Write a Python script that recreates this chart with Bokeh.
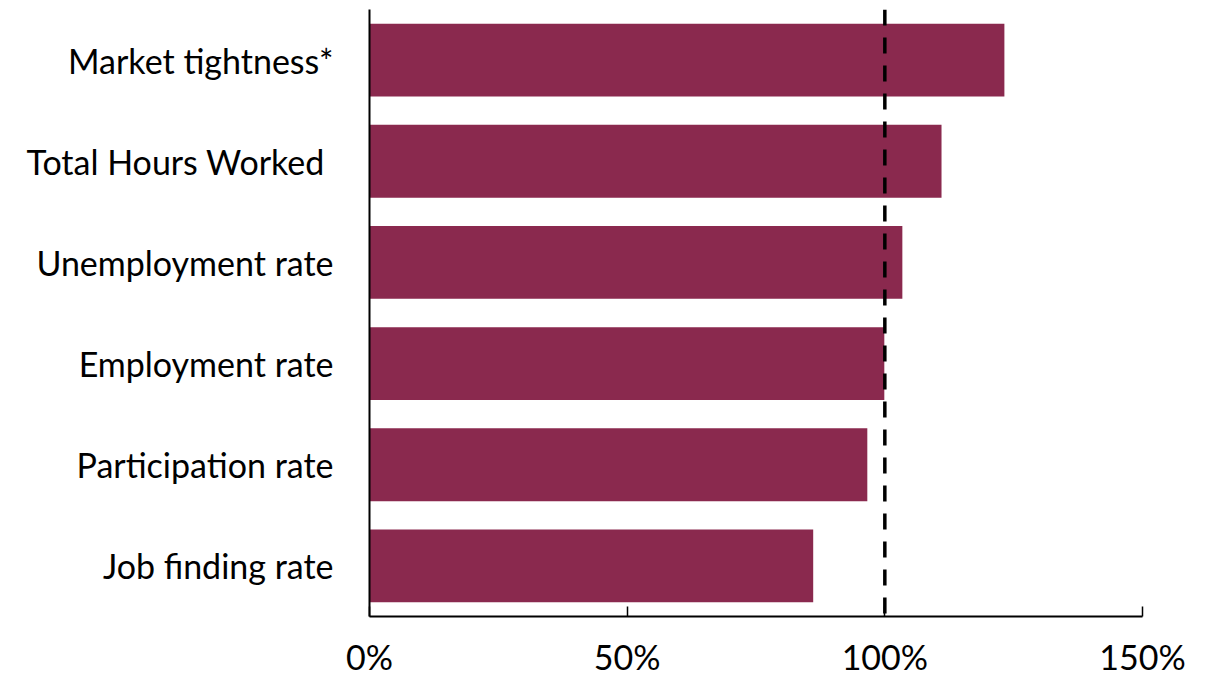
from bokeh.plotting import figure
from bokeh.models import FactorRange, Span, FixedTicker, CustomJSTickFormatter
from bokeh.embed import file_html
from bokeh.resources import INLINE

categories = ["Market tightness*", "Total Hours Worked ", "Unemployment rate",
              "Employment rate", "Participation rate", "Job finding rate"]
values = [123.2, 111.0, 103.4, 99.9, 96.6, 86.1]
x_ticks = [0, 50, 100, 150]
reference_line = 100

FONT = "Lato"
BAR = "#8A294E"

p = figure(y_range=FactorRange(*reversed(categories)), x_range=(0, 150),
           width=1206, height=679, output_backend="svg", toolbar_location=None,
           min_border_left=369, min_border_right=64, min_border_top=9, min_border_bottom=63)

p.hbar(y=categories, right=values, left=0, height=0.72, color=BAR, line_color=None)

p.add_layout(Span(location=reference_line, dimension="height", line_color="black",
                  line_width=3.5, line_dash="16 12"))

p.xaxis.ticker = FixedTicker(ticks=x_ticks)
p.xaxis.formatter = CustomJSTickFormatter(code="return tick + '%';")
p.xaxis.major_tick_in = 10
p.xaxis.major_tick_out = 0
p.xaxis.minor_tick_line_color = None
p.xaxis.axis_line_width = 2
p.xaxis.major_tick_line_width = 1.5
p.xaxis.major_label_standoff = 19
p.xaxis.major_label_text_font = FONT
p.xaxis.major_label_text_font_size = "34px"
p.xaxis.major_label_text_color = "black"
p.xaxis.axis_line_color = "black"

p.yaxis.major_tick_line_color = None
p.yaxis.minor_tick_line_color = None
p.yaxis.axis_line_width = 2
p.yaxis.axis_line_color = "black"
p.yaxis.major_label_standoff = 30
p.yaxis.major_label_text_font = FONT
p.yaxis.major_label_text_font_size = "34px"
p.yaxis.major_label_text_color = "black"

p.xgrid.grid_line_color = None
p.ygrid.grid_line_color = None
p.outline_line_color = None
p.y_range.range_padding = 0
p.y_range.group_padding = 0

open("out.html", "w").write(file_html(p, INLINE))
